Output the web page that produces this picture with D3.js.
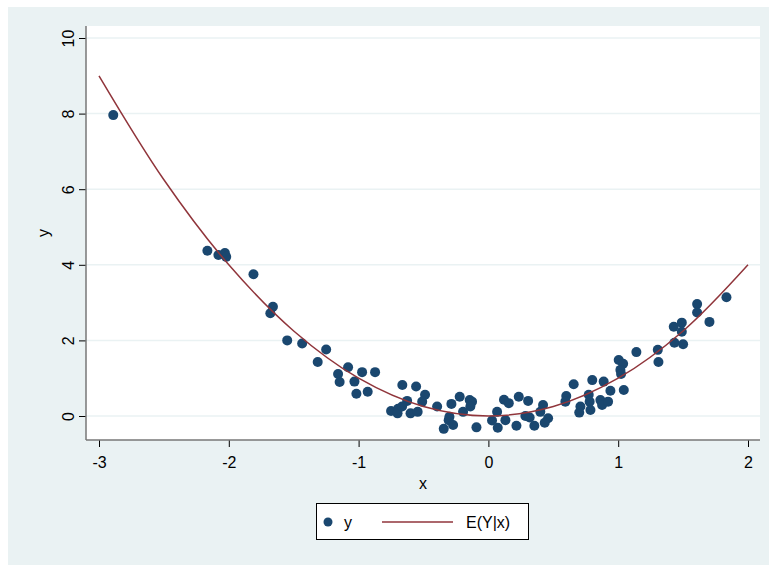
<!DOCTYPE html>
<html>
<head>
<meta charset="utf-8">
<script src="https://cdn.jsdelivr.net/npm/d3@7"></script>
<style>
  body { margin: 0; background: #fff; }
  text { font-family: Arial, "Liberation Sans", sans-serif; fill: #000; }
</style>
</head>
<body>
<svg id="chart" width="769" height="565"></svg>
<script>
// scatter data (x, y)
const xs = [-2.89, -2.165, -2.08, -2.03, -2.02, -1.81, -1.66, -1.68, -1.55, -1.435,
  -1.315, -1.25, -1.158, -1.081, -1.146, -0.973, -1.032, -1.017, -0.93, -0.873,
  -0.663, -0.75, -0.696, -0.70, -0.626, -0.557, -0.488, -0.51, -0.60, -0.545,
  -0.665, -0.395, -0.285, -0.221, -0.144, -0.126, -0.139, -0.195, -0.30, -0.306,
  -0.272, -0.344, -0.092, 0.028, 0.067, 0.072, 0.12, 0.157, 0.131, 0.216,
  0.234, 0.306, 0.285, 0.318, 0.354, 0.421, 0.40, 0.46, 0.434, 0.60,
  0.593, 0.657, 0.709, 0.70, 0.773, 0.78, 0.786, 0.80, 0.863, 0.876,
  0.888, 0.94, 0.922, 1.004, 1.038, 1.017, 1.022, 1.043, 1.14, 1.305,
  1.31, 1.428, 1.49, 1.49, 1.433, 1.50, 1.608, 1.608, 1.703, 1.834];
const ys = [7.96, 4.37, 4.26, 4.31, 4.21, 3.75, 2.89, 2.72, 2.00, 1.92,
  1.43, 1.76, 1.11, 1.29, 0.90, 1.16, 0.91, 0.59, 0.64, 1.16,
  0.82, 0.13, 0.19, 0.07, 0.40, 0.78, 0.56, 0.38, 0.07, 0.11,
  0.25, 0.25, 0.32, 0.51, 0.42, 0.38, 0.25, 0.11, -0.02, -0.11,
  -0.24, -0.34, -0.30, -0.12, 0.11, -0.31, 0.43, 0.34, -0.11, -0.26,
  0.51, 0.40, 0.00, -0.04, -0.26, 0.29, 0.11, -0.06, -0.18, 0.53,
  0.38, 0.84, 0.25, 0.09, 0.56, 0.38, 0.16, 0.95, 0.42, 0.29,
  0.91, 0.67, 0.38, 1.48, 1.38, 1.22, 1.11, 0.69, 1.69, 1.75,
  1.43, 2.36, 2.47, 2.23, 1.94, 1.90, 2.96, 2.74, 2.49, 3.14];

// E(Y|x) curve points
const fitX = [-3, -2.5, -2, -1.5, -1, -0.5, 0, 0.5, 1, 1.5, 2];
const fitY = [9, 6.25, 4, 2.25, 1, 0.25, 0, 0.25, 1, 2.25, 4];

const xTicks = [-3, -2, -1, 0, 1, 2];
const yTicks = [0, 2, 4, 6, 8, 10];

const bg = "#eaf2f3", navy = "#1a476f", maroon = "#90353b";

const svg = d3.select("#chart");

// outer background
svg.append("rect").attr("x", 8).attr("y", 7).attr("width", 761).attr("height", 558).attr("fill", bg);

// plot region
const plot = {left: 86, right: 760, top: 26, bottom: 440};
svg.append("rect")
  .attr("x", plot.left).attr("y", plot.top)
  .attr("width", plot.right - plot.left).attr("height", plot.bottom - plot.top)
  .attr("fill", "#fff");

const x = d3.scaleLinear().domain([-3, 2]).range([99, 748]);
const y = d3.scaleLinear().domain([0, 10]).range([416, 38]);

// gridlines
svg.append("g").selectAll("line").data(yTicks).join("line")
  .attr("x1", plot.left).attr("x2", plot.right)
  .attr("y1", d => y(d)).attr("y2", d => y(d))
  .attr("stroke", bg).attr("stroke-width", 1.5);

// y axis, labels rotated like Stata
const yAxis = svg.append("g")
  .attr("transform", `translate(${plot.left},0)`)
  .call(d3.axisLeft(y).tickValues(yTicks).tickSize(7).tickFormat(d => String(d)).tickSizeOuter(0));
yAxis.select(".domain").remove();
yAxis.selectAll(".tick line").attr("stroke", "#000");
yAxis.selectAll(".tick text")
  .attr("font-size", 16)
  .attr("x", 0).attr("y", 0).attr("dy", 0)
  .attr("text-anchor", "middle")
  .attr("transform", "translate(-12,0) rotate(-90)");

svg.append("line")
  .attr("x1", plot.left).attr("x2", plot.left)
  .attr("y1", plot.top).attr("y2", plot.bottom)
  .attr("stroke", "#777").attr("stroke-width", 1.5);

// x axis
const xAxis = svg.append("g")
  .attr("transform", `translate(0,${plot.bottom})`)
  .call(d3.axisBottom(x).tickValues(xTicks).tickSize(7).tickPadding(10)
    .tickFormat(d => String(d)).tickSizeOuter(0));
xAxis.select(".domain").remove();
xAxis.selectAll(".tick line").attr("stroke", "#000");
xAxis.selectAll(".tick text").attr("font-size", 16);

svg.append("line")
  .attr("x1", plot.left).attr("x2", plot.right)
  .attr("y1", plot.bottom).attr("y2", plot.bottom)
  .attr("stroke", "#777").attr("stroke-width", 1.5);

// axis titles
svg.append("text").attr("x", (plot.left + plot.right) / 2).attr("y", 489)
  .attr("text-anchor", "middle").attr("font-size", 16).text("x");
svg.append("text").attr("transform", `translate(49,${(plot.top + plot.bottom) / 2}) rotate(-90)`)
  .attr("text-anchor", "middle").attr("font-size", 16).text("y");

// scatter
svg.append("g").selectAll("circle").data(d3.range(xs.length)).join("circle")
  .attr("cx", i => x(xs[i])).attr("cy", i => y(ys[i]))
  .attr("r", 5).attr("fill", navy);

// fitted curve
const line = d3.line().x(i => x(fitX[i])).y(i => y(fitY[i])).curve(d3.curveCatmullRom.alpha(0.5));
svg.append("path").datum(d3.range(fitX.length))
  .attr("d", line).attr("fill", "none").attr("stroke", maroon).attr("stroke-width", 1.5);

// legend
const lg = svg.append("g");
lg.append("rect").attr("x", 316.5).attr("y", 503.5).attr("width", 212).attr("height", 36)
  .attr("fill", "#fff").attr("stroke", "#000").attr("stroke-width", 1);
lg.append("circle").attr("cx", 328).attr("cy", 522).attr("r", 4.5).attr("fill", navy);
lg.append("text").attr("x", 344).attr("y", 528).attr("font-size", 16).text("y");
lg.append("line").attr("x1", 382).attr("x2", 453).attr("y1", 522).attr("y2", 522)
  .attr("stroke", maroon).attr("stroke-width", 1.5);
lg.append("text").attr("x", 466).attr("y", 528).attr("font-size", 16).text("E(Y|x)");
</script>
</body>
</html>
